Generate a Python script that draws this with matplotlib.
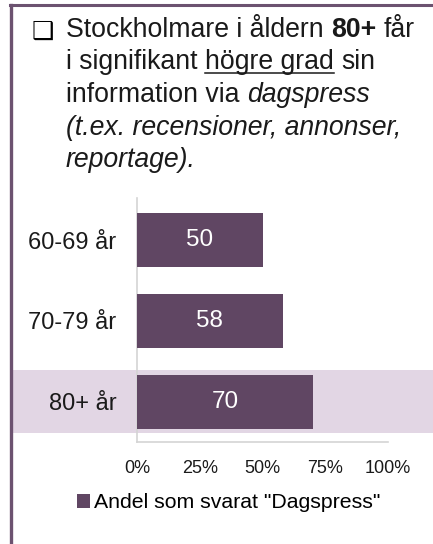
"""
Horizontal bar chart: share of Stockholm residents by age group who get
their information via daily press, with a text heading above.
"""

import matplotlib

matplotlib.use("Agg")

import matplotlib.pyplot as plt
import matplotlib.transforms as mtransforms
from matplotlib.lines import Line2D
from matplotlib.patches import Rectangle

plt.rcParams["font.family"] = ["Liberation Sans", "DejaVu Sans"]

# Data (bottom to top)
age_groups = ["80+ år", "70-79 år", "60-69 år"]
shares = [70, 58, 50]
highlight_group = "80+ år"
x_ticks = [0, 25, 50, 75, 100]
x_tick_labels = ["0%", "25%", "50%", "75%", "100%"]
legend_label = 'Andel som svarat "Dagspress"'

# Heading lines as runs of (text, style)
heading = [
    [("Stockholmare i åldern", "normal"), ("80+", "bold"), ("får", "normal")],
    [("i signifikant", "normal"), ("högre grad", "underline"), ("sin", "normal")],
    [("information via", "normal"), ("dagspress", "italic")],
    [("(t.ex. recensioner, annonser,", "italic")],
    [("reportage).", "italic")],
]

BAR = "#604663"
BAND = "#e2d6e4"
FRAME = "#6c5270"
AXIS = "#d4d4d4"

W, H = 433, 544
fig = plt.figure(figsize=(W / 100, H / 100), dpi=100)
fig.patch.set_facecolor("white")

# Frame: top and left rules
fig.add_artist(Line2D([10 / W, 1], [1 - 5 / H, 1 - 5 / H], color=FRAME, lw=2.2))
fig.add_artist(Line2D([10.5 / W, 10.5 / W], [0, 1 - 5 / H], color=FRAME, lw=2.4))

# Heading with mixed styles
renderer = fig.canvas.get_renderer()
fs_head = 19.2


def text_width(t):
    bb = t.get_window_extent(renderer)
    return bb.width


probe_a = fig.text(0, 0, "x x", fontsize=fs_head)
probe_b = fig.text(0, 0, "xx", fontsize=fs_head)
space_w = text_width(probe_a) - text_width(probe_b)
probe_a.remove()
probe_b.remove()

fig.text(32 / W, 1 - 39 / H, "\u2751", fontsize=18, family=["DejaVu Sans"],
         va="baseline", ha="left")

x_start = 66
baseline = 37
line_gap = 32.5
for line in heading:
    x = x_start
    for txt, style in line:
        kw = {}
        if style == "bold":
            kw["fontweight"] = "bold"
        elif style == "italic":
            kw["fontstyle"] = "italic"
        t = fig.text(x / W, 1 - baseline / H, txt, fontsize=fs_head,
                     va="baseline", ha="left", color="#1a1a1a", **kw)
        w = text_width(t)
        if style == "underline":
            y_ul = 1 - (baseline + 3.5) / H
            fig.add_artist(Line2D([x / W, (x + w) / W], [y_ul, y_ul],
                                  color="#1a1a1a", lw=1.1))
        x += w + space_w
    baseline += line_gap

# Chart axes
ax = fig.add_axes([137 / W, 102 / H, 251 / W, 244 / H])
ax.set_facecolor("none")
pos = list(range(len(age_groups)))
bars = ax.barh(pos, shares, height=0.67, color=BAR, label=legend_label, zorder=3)

# Highlight band behind the emphasised group, spanning the frame width
hi = age_groups.index(highlight_group)
band_tf = mtransforms.blended_transform_factory(fig.transFigure, ax.transData)
band = Rectangle((12 / W, hi - 0.39), 1 - 12 / W, 0.78, transform=band_tf,
                 facecolor=BAND, edgecolor="none", clip_on=False, zorder=0)
ax.add_patch(band)

for rect, v in zip(bars, shares):
    ax.text(rect.get_width() / 2, rect.get_y() + rect.get_height() / 2,
            f"{v}", ha="center", va="center", color="white", fontsize=17.5,
            zorder=4)

ax.set_xlim(0, 100)
ax.set_ylim(-0.5, 2.52)
ax.set_xticks(x_ticks)
ax.set_xticklabels(x_tick_labels)
ax.set_yticks(pos)
ax.set_yticklabels(age_groups)
ax.tick_params(axis="x", length=0, pad=13, labelsize=13, colors="#1a1a1a")
ax.tick_params(axis="y", length=0, pad=15, labelsize=17, colors="#1a1a1a")
for side in ("top", "right"):
    ax.spines[side].set_visible(False)
for side in ("left", "bottom"):
    ax.spines[side].set_color(AXIS)
    ax.spines[side].set_linewidth(1.2)
    ax.spines[side].set_zorder(1)

fig.legend(handles=[bars], labels=[legend_label], loc="center",
           bbox_to_anchor=(229 / W, 1 - 503 / H), frameon=False, fontsize=15.3,
           handlelength=0.6, handleheight=0.6, handletextpad=0.2,
           borderaxespad=0, borderpad=0)

fig.savefig("out.png", dpi=100)
